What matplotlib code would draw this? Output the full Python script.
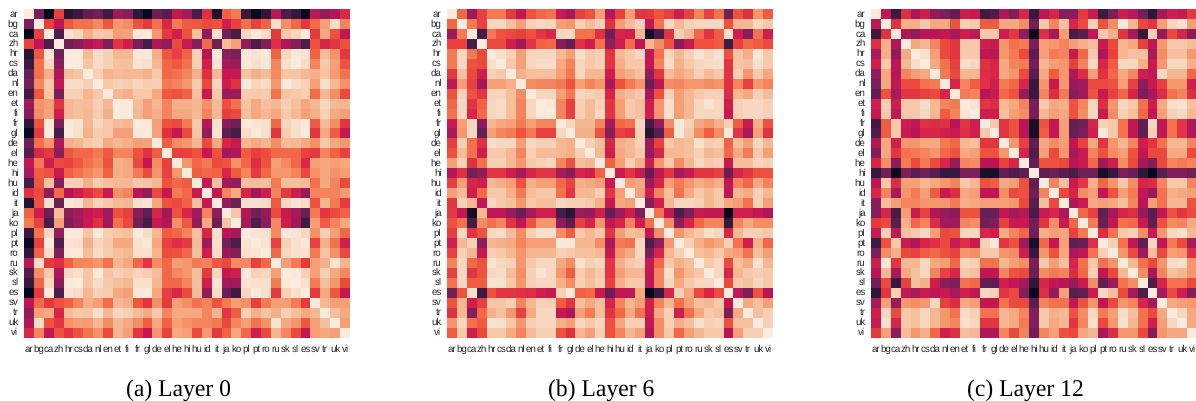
import numpy as np
import matplotlib
matplotlib.use("Agg")
import matplotlib.pyplot as plt
import seaborn as sns

plt.rcParams["text.hinting"] = "no_hinting"

langs = ["ar", "bg", "ca", "zh", "hr", "cs", "da", "nl", "en", "et", "fi", "fr", "gl", "de", "el", "he", "hi",
         "hu", "id", "it", "ja", "ko", "pl", "pt", "ro", "ru", "sk", "sl", "es", "sv", "tr", "uk", "vi"]
captions = ["(a) Layer 0", "(b) Layer 6", "(c) Layer 12"]

# upper triangles, diagonal left out, values read by eye (0 dark, 100 light)
layer0 = [
    [30, 0, 58, 10, 15, 25, 28, 17, 38, 33, 12, 2, 27, 22, 47, 40, 18, 55, 8, 65, 70, 15, 3, 12, 45, 20, 14, 1, 45, 36, 42, 53],
    [58, 45, 63, 68, 68, 73, 63, 76, 74, 62, 57, 68, 53, 70, 64, 63, 60, 62, 50, 58, 68, 58, 65, 93, 74, 66, 57, 67, 78, 93, 72],
    [20, 95, 92, 82, 88, 87, 78, 79, 96, 97, 76, 57, 50, 62, 86, 35, 94, 27, 18, 92, 96, 93, 57, 88, 92, 97, 57, 80, 62, 46],
    [28, 33, 42, 47, 30, 56, 50, 30, 18, 42, 35, 60, 48, 33, 67, 27, 85, 78, 35, 20, 32, 54, 42, 33, 20, 62, 52, 56, 62],
    [97, 85, 93, 90, 84, 84, 96, 96, 82, 63, 58, 65, 90, 43, 96, 34, 30, 96, 95, 96, 65, 92, 96, 95, 65, 85, 75, 56],
    [87, 93, 90, 86, 86, 95, 94, 84, 66, 63, 68, 90, 50, 95, 40, 38, 96, 94, 96, 72, 94, 97, 93, 72, 88, 78, 62],
    [90, 83, 85, 84, 84, 82, 88, 66, 68, 72, 82, 55, 84, 47, 48, 87, 82, 85, 73, 87, 87, 84, 82, 87, 77, 68],
    [88, 90, 89, 92, 89, 90, 70, 72, 76, 89, 60, 91, 50, 55, 96, 91, 93, 76, 96, 93, 90, 78, 94, 84, 75],
    [84, 82, 88, 88, 80, 63, 62, 65, 86, 48, 88, 38, 38, 89, 88, 89, 68, 87, 88, 89, 67, 84, 74, 60],
    [97, 85, 78, 84, 72, 82, 82, 84, 75, 85, 62, 68, 87, 80, 86, 84, 90, 86, 80, 84, 92, 84, 83],
    [84, 78, 82, 72, 80, 80, 84, 72, 84, 58, 60, 86, 80, 84, 80, 88, 84, 78, 82, 90, 80, 78],
    [96, 78, 62, 60, 70, 88, 44, 94, 33, 28, 96, 95, 94, 66, 91, 94, 96, 63, 85, 74, 56],
    [79, 55, 47, 60, 87, 36, 95, 24, 18, 93, 96, 94, 56, 89, 94, 97, 56, 80, 64, 47],
    [64, 74, 76, 84, 60, 80, 52, 48, 84, 80, 83, 74, 85, 84, 80, 75, 88, 80, 76],
    [58, 58, 62, 47, 62, 38, 42, 64, 58, 61, 66, 66, 66, 58, 57, 72, 65, 58],
    [76, 66, 70, 60, 62, 75, 66, 54, 62, 78, 73, 66, 53, 78, 80, 78, 80],
    [64, 66, 65, 52, 63, 72, 57, 66, 76, 76, 72, 60, 75, 80, 75, 78],
    [48, 86, 38, 36, 86, 85, 86, 70, 86, 86, 85, 68, 80, 72, 60],
    [47, 72, 80, 52, 38, 50, 72, 57, 50, 36, 72, 72, 72, 77],
    [35, 27, 94, 94, 93, 63, 92, 95, 93, 62, 83, 70, 57],
    [87, 44, 28, 36, 60, 48, 40, 26, 70, 56, 60, 65],
    [40, 20, 33, 73, 50, 38, 16, 78, 64, 72, 80],
    [95, 94, 73, 96, 95, 92, 75, 90, 78, 66],
    [95, 58, 90, 94, 96, 58, 82, 68, 50],
    [66, 92, 94, 94, 70, 87, 75, 60],
    [78, 70, 57, 78, 82, 95, 83],
    [96, 90, 78, 90, 80, 73],
    [94, 70, 86, 76, 60],
    [57, 80, 63, 47],
    [84, 78, 78],
    [86, 80],
    [78],
]
layer6 = [
    [66, 38, 58, 70, 70, 57, 46, 62, 66, 68, 48, 40, 58, 62, 78, 44, 58, 78, 56, 57, 62, 58, 50, 58, 72, 58, 68, 28, 62, 55, 76, 64],
    [70, 58, 92, 92, 86, 78, 90, 92, 92, 78, 76, 90, 85, 90, 55, 78, 85, 90, 46, 68, 92, 84, 90, 92, 92, 92, 62, 84, 84, 92, 88],
    [18, 70, 62, 60, 58, 62, 56, 53, 92, 92, 68, 68, 55, 28, 52, 50, 84, 5, 18, 56, 90, 84, 66, 56, 64, 94, 50, 33, 68, 50],
    [60, 60, 50, 38, 56, 65, 66, 33, 25, 55, 50, 68, 35, 50, 67, 46, 84, 74, 62, 34, 48, 62, 62, 64, 16, 58, 66, 64, 60],
    [94, 90, 78, 91, 92, 92, 84, 78, 94, 88, 90, 56, 84, 88, 92, 46, 68, 92, 84, 90, 95, 92, 95, 62, 87, 82, 95, 88],
    [88, 78, 91, 93, 93, 80, 72, 92, 88, 90, 56, 82, 88, 88, 46, 72, 93, 82, 88, 92, 93, 94, 56, 87, 86, 94, 88],
    [82, 86, 86, 86, 78, 70, 92, 84, 84, 50, 78, 82, 86, 36, 56, 85, 80, 84, 90, 85, 88, 56, 90, 76, 88, 80],
    [74, 72, 72, 70, 62, 78, 72, 76, 40, 62, 70, 76, 26, 45, 74, 72, 76, 76, 74, 76, 55, 72, 58, 76, 72],
    [92, 92, 78, 70, 92, 90, 88, 52, 82, 85, 88, 40, 62, 90, 78, 84, 88, 90, 90, 54, 84, 80, 90, 85],
    [96, 72, 58, 90, 85, 90, 56, 78, 88, 86, 50, 76, 94, 78, 84, 92, 95, 92, 50, 90, 92, 92, 90],
    [72, 58, 90, 85, 92, 56, 78, 88, 86, 50, 76, 94, 78, 84, 92, 92, 92, 48, 90, 92, 92, 90],
    [92, 84, 84, 72, 40, 66, 68, 92, 18, 35, 74, 96, 90, 80, 76, 82, 90, 64, 48, 82, 62],
    [82, 82, 62, 32, 58, 56, 90, 10, 22, 64, 96, 88, 74, 64, 74, 96, 56, 40, 78, 55],
    [90, 86, 52, 82, 84, 90, 38, 58, 88, 84, 86, 94, 89, 90, 65, 86, 78, 92, 84],
    [84, 50, 80, 84, 88, 36, 52, 84, 84, 86, 90, 84, 86, 66, 80, 70, 88, 78],
    [65, 78, 90, 82, 50, 76, 88, 74, 84, 92, 88, 90, 48, 86, 86, 92, 90],
    [48, 56, 48, 25, 46, 56, 40, 48, 56, 56, 58, 26, 52, 56, 62, 62],
    [78, 80, 38, 52, 78, 70, 76, 82, 78, 82, 46, 72, 66, 80, 72],
    [78, 50, 72, 86, 68, 80, 88, 84, 88, 46, 84, 80, 90, 84],
    [32, 50, 84, 92, 92, 90, 84, 88, 80, 78, 68, 90, 78],
    [68, 46, 20, 30, 48, 46, 46, 1, 50, 50, 46, 42],
    [74, 35, 52, 66, 72, 72, 14, 72, 80, 74, 74],
    [76, 84, 88, 94, 92, 52, 84, 90, 90, 88],
    [90, 82, 76, 80, 90, 68, 50, 82, 66],
    [86, 84, 88, 80, 78, 68, 86, 78],
    [88, 92, 60, 86, 80, 94, 84],
    [92, 52, 84, 88, 90, 88],
    [60, 88, 86, 92, 88],
    [46, 30, 62, 44],
    [80, 86, 78],
    [86, 90],
    [90],
]
layer12 = [
    [46, 15, 54, 42, 50, 35, 30, 24, 50, 48, 16, 20, 42, 32, 52, 14, 45, 52, 33, 33, 57, 48, 15, 30, 50, 44, 28, 12, 40, 50, 48, 57],
    [55, 82, 82, 88, 80, 80, 62, 90, 88, 64, 64, 80, 80, 74, 28, 88, 72, 86, 52, 60, 90, 62, 74, 96, 84, 60, 56, 78, 92, 94, 78],
    [42, 35, 45, 44, 46, 40, 50, 46, 88, 88, 50, 56, 34, 2, 54, 40, 78, 18, 22, 46, 88, 82, 56, 40, 14, 90, 36, 60, 52, 33],
    [80, 84, 72, 60, 56, 88, 88, 50, 48, 76, 68, 70, 30, 78, 76, 72, 78, 82, 86, 48, 60, 84, 80, 58, 46, 76, 88, 88, 85],
    [94, 78, 60, 56, 88, 88, 46, 44, 76, 70, 60, 22, 78, 70, 72, 48, 66, 88, 42, 58, 84, 86, 86, 40, 74, 86, 86, 76],
    [80, 68, 58, 93, 92, 55, 52, 80, 72, 70, 28, 84, 78, 76, 58, 72, 92, 52, 64, 92, 92, 82, 48, 76, 92, 92, 82],
    [70, 60, 84, 84, 54, 52, 80, 76, 60, 22, 80, 64, 76, 42, 54, 78, 55, 66, 80, 72, 50, 46, 92, 84, 84, 66],
    [52, 72, 64, 55, 50, 70, 66, 52, 14, 76, 48, 76, 36, 38, 60, 60, 62, 78, 58, 34, 48, 58, 76, 76, 50],
    [70, 72, 44, 48, 66, 62, 36, 14, 72, 54, 70, 33, 38, 62, 48, 58, 66, 52, 30, 40, 54, 68, 72, 54],
    [95, 56, 54, 84, 80, 72, 30, 88, 80, 82, 62, 72, 92, 54, 76, 92, 88, 68, 50, 80, 93, 94, 86],
    [50, 50, 86, 78, 74, 30, 84, 78, 80, 62, 74, 92, 48, 74, 90, 86, 66, 46, 78, 90, 92, 84],
    [88, 56, 62, 44, 6, 62, 46, 78, 26, 28, 52, 90, 88, 68, 46, 24, 92, 46, 68, 56, 42],
    [56, 62, 44, 6, 64, 46, 78, 26, 30, 50, 96, 88, 68, 46, 24, 90, 46, 68, 56, 42],
    [76, 58, 24, 80, 74, 78, 46, 58, 80, 56, 76, 84, 72, 50, 56, 68, 84, 84, 72],
    [52, 20, 78, 60, 76, 40, 48, 72, 62, 74, 78, 62, 46, 60, 60, 80, 80, 60],
    [24, 62, 62, 60, 44, 48, 66, 38, 50, 74, 60, 40, 32, 60, 72, 70, 72],
    [25, 27, 22, 18, 28, 28, 6, 14, 30, 26, 12, 2, 22, 32, 32, 28],
    [72, 86, 48, 56, 82, 66, 76, 88, 74, 52, 54, 72, 88, 88, 72],
    [60, 52, 74, 78, 46, 62, 78, 70, 46, 36, 68, 82, 80, 78],
    [42, 48, 80, 78, 80, 86, 72, 44, 78, 68, 84, 84, 62],
    [66, 58, 24, 40, 52, 54, 36, 22, 46, 62, 56, 60],
    [70, 26, 46, 68, 66, 48, 24, 62, 74, 72, 80],
    [54, 68, 88, 90, 74, 48, 76, 92, 94, 84],
    [90, 68, 46, 24, 92, 46, 70, 60, 40],
    [76, 60, 38, 86, 60, 78, 76, 54],
    [84, 68, 60, 76, 93, 94, 76],
    [74, 40, 72, 86, 84, 76],
    [20, 52, 68, 68, 60],
    [40, 60, 50, 32],
    [80, 78, 76],
    [92, 80],
    [80],
]


def to_matrix(rows):
    n = len(langs)
    m = np.full((n, n), 100.0)
    for i, row in enumerate(rows):
        assert len(row) == n - i - 1, (i, len(row))
        for k, v in enumerate(row):
            m[i, i + k + 1] = v
            m[i + k + 1, i] = v
    return m


fig = plt.figure(figsize=(11.96, 4.01), dpi=100)
W, H = 1196.0, 401.0
lefts = [24, 447, 871]

for layer, left, caption in zip([layer0, layer6, layer12], lefts, captions):
    ax = fig.add_axes([left / W, 1 - 337.5 / H, 326 / W, 328.5 / H])
    # vmax a bit under 100 so the pale blocks get as light as in the picture
    sns.heatmap(to_matrix(layer), ax=ax, cmap="rocket", vmin=0, vmax=97, cbar=False,
                xticklabels=langs, yticklabels=langs)
    ax.tick_params(axis="x", length=0, pad=5)
    ax.tick_params(axis="y", length=0, pad=4)
    ax.set_xticklabels(langs, fontsize=7, family="Liberation Sans", rotation=0, color="#262626")
    ax.set_yticklabels(langs, fontsize=7, family="Liberation Sans", rotation=0, color="#262626")
    fig.text((left + 154) / W, 1 - 390 / H, caption, ha="center", va="center",
             fontsize=17, family="Liberation Serif")

fig.savefig("out.png", dpi=100)
